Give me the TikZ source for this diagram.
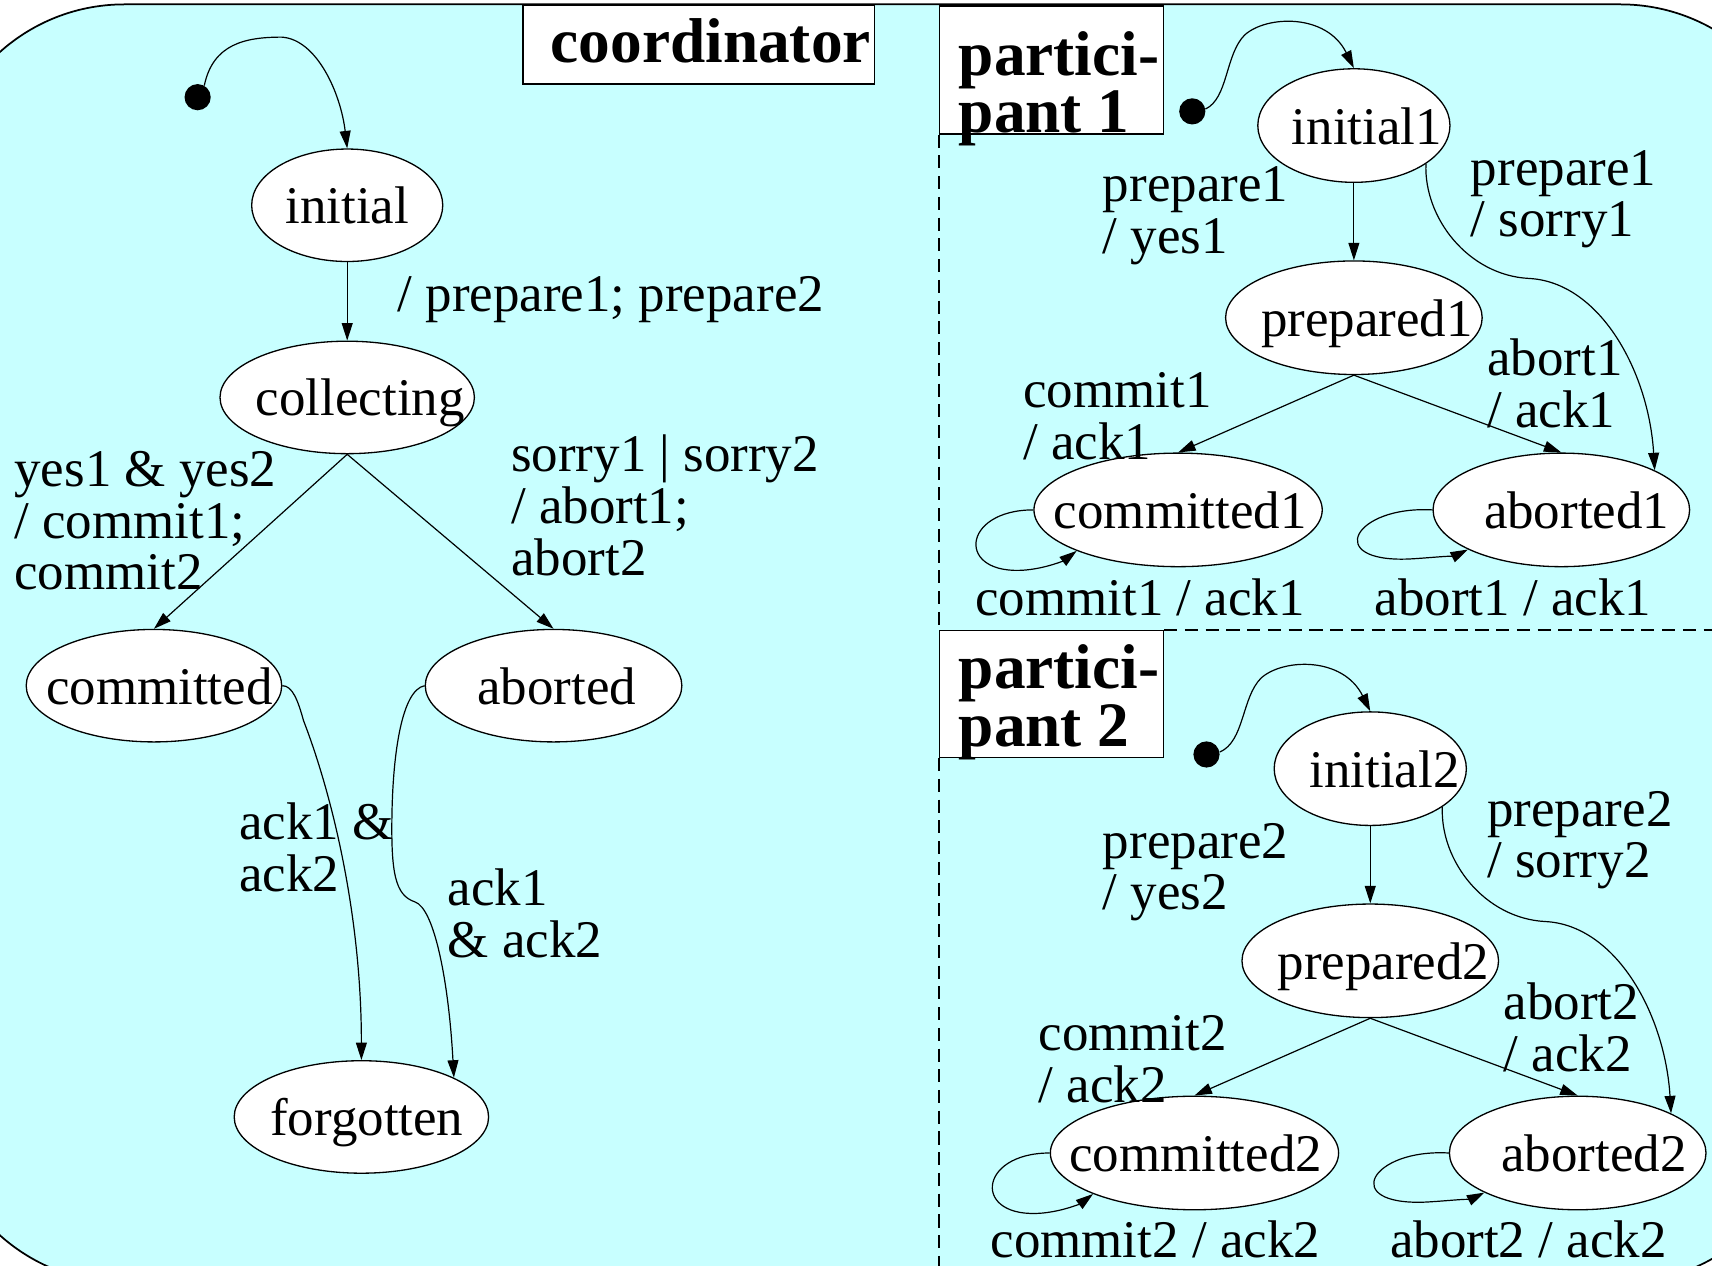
\documentclass[tikz,border=0pt]{standalone}
\usepackage{fontspec}
\setmainfont{Liberation Serif}
\usetikzlibrary{arrows.meta,shapes.geometric}
\definecolor{panelcyan}{RGB}{200,255,255}
\newcommand{\labelfont}{\fontsize{48.5}{47}\selectfont}
\newcommand{\titlefont}{\fontsize{58}{48}\selectfont\bfseries}
% multi-line label whose baseline is that of its first line
\newcommand{\lines}[1]{\begin{tabular}[t]{@{}l@{}}#1\end{tabular}}
% state name shifted right by half of #1, not widening the ellipse
\newcommand{\stxt}[2]{\makebox[0pt]{\hspace*{#1}#2}}
\tikzset{
  state/.style={ellipse, draw, fill=white, line width=1.2pt, inner sep=0pt,
    minimum height=103pt, text height=34pt, text depth=0pt, font=\labelfont},
  trans/.style={-{Triangle[length=16pt,width=10pt]}, line width=1.1pt},
  lbl/.style={anchor=base west, inner sep=0pt, font=\labelfont},
  titlebox/.style={draw, fill=white, line width=1.3pt, inner sep=0pt},
  startdot/.style={circle, fill=black, minimum size=24pt, inner sep=0pt},
  region/.style={dash pattern=on 12pt off 7pt, line width=1pt}
}
\begin{document}
\begin{tikzpicture}[x=1pt,y=-1pt]
\useasboundingbox (0,0) rectangle (1568,1159);
\fill[white] (0,0) rectangle (1568,1159);
% enclosing state
\draw[fill=panelcyan, line width=1.6pt, rounded corners=171pt] (-57,4) rectangle (1655,1175);

% title boxes
\node[titlebox, minimum width=322pt, minimum height=72pt, text height=32pt, text depth=0pt, font=\titlefont] (coordbox) at (640,41) {\stxt{22pt}{coordinator}};
\node[titlebox, anchor=north west, minimum width=205pt, minimum height=117pt] (p1box) at (860,5) {};
\node[titlebox, anchor=north west, minimum width=205pt, minimum height=116pt] (p2box) at (860,577) {};
\coordinate (sepbottom) at (860,1165);
\coordinate (sepright) at (1660,577);

% orthogonal region borders
\draw[region] (p1box.south west) -- (p2box.north west);
\draw[region] (p2box.south west) -- (sepbottom);
\draw[region] (p2box.north east) -- (sepright);

\node[lbl, font=\titlefont] (p1title) at (878,69) {\lines{partici-\\pant 1}};
\node[lbl, font=\titlefont] (p2title) at (878,631) {\lines{partici-\\pant 2}};

% coordinator states
\node[state, minimum width=175pt] (init) at (318,188) {\stxt{0pt}{initial}};
\node[state, minimum width=233pt] (coll) at (318,364) {\stxt{24pt}{collecting}};
\node[state, minimum width=234pt] (comm) at (141,628) {\stxt{10pt}{committed}};
\node[state, minimum width=235pt] (abo) at (507,628) {\stxt{6pt}{aborted}};
\node[state, minimum width=233pt] (forg) at (331,1023) {\stxt{10pt}{forgotten}};
\node[startdot] (d0) at (181,89) {};

% participant 1 states
\node[state, minimum width=176pt, minimum height=104pt] (i1) at (1240,115) {\stxt{24pt}{initial1}};
\node[state, minimum width=235pt, minimum height=104pt] (pr1) at (1240,291) {\stxt{24pt}{prepared1}};
\node[state, minimum width=264pt, minimum height=104pt] (c1) at (1079,467) {\stxt{4pt}{committed1}};
\node[state, minimum width=235pt, minimum height=104pt] (a1) at (1430,467) {\stxt{28pt}{aborted1}};
\node[startdot] (d1) at (1092,102) {};

% participant 2 states
\node[state, minimum width=176pt, minimum height=104pt] (i2) at (1255,704) {\stxt{26pt}{initial2}};
\node[state, minimum width=235pt, minimum height=104pt] (pr2) at (1255,880) {\stxt{24pt}{prepared2}};
\node[state, minimum width=264pt, minimum height=104pt] (c2) at (1094,1056) {\stxt{2pt}{committed2}};
\node[state, minimum width=235pt, minimum height=104pt] (a2) at (1445,1056) {\stxt{30pt}{aborted2}};
\node[startdot] (d2) at (1105,691) {};

% coordinator transitions
\draw[trans] (d0.60) .. controls (195,40) and (225,34) .. (258,34)
  .. controls (290,36) and (312,85) .. (init.north);
\draw[trans] (init.south) -- (coll.north);
\draw[trans] (coll.south) -- (comm.north);
\draw[trans] (coll.south) -- (abo.north);
\draw[trans] (comm.east) .. controls (268,628) and (273,642) .. (278,660)
  .. controls (305,730) and (331,840) .. (forg.north);
\draw[trans] (abo.west) .. controls (368,632) and (360,690) .. (359,745)
  .. controls (358,800) and (362,820) .. (380,826)
  .. controls (398,832) and (411,900) .. (forg.23);

% participant 1 transitions
\draw[trans] (d1.10) .. controls (1125,90) and (1122,50) .. (1140,32)
  .. controls (1160,14) and (1215,12) .. (i1.north);
\draw[trans] (i1.south) -- (pr1.north);
\draw[trans] (i1.-28) .. controls (1304,200) and (1345,252) .. (1400,255)
  .. controls (1465,258) and (1510,340) .. (a1.23);
\draw[trans] (pr1.south) -- (c1.north);
\draw[trans] (pr1.south) -- (a1.north);
\draw[trans] (c1.west) .. controls (880,467) and (875,528) .. (940,522)
  .. controls (960,520) and (975,513) .. (c1.202);
\draw[trans] (a1.west) .. controls (1240,463) and (1212,515) .. (1290,512)
  .. controls (1310,511) and (1335,508) .. (a1.203.5);

% participant 2 transitions
\draw[trans] (d2.10) .. controls (1140,679) and (1137,639) .. (1155,621)
  .. controls (1175,603) and (1230,601) .. (i2.north);
\draw[trans] (i2.south) -- (pr2.north);
\draw[trans] (i2.-28) .. controls (1319,789) and (1360,841) .. (1415,844)
  .. controls (1480,847) and (1525,929) .. (a2.23);
\draw[trans] (pr2.south) -- (c2.north);
\draw[trans] (pr2.south) -- (a2.north);
\draw[trans] (c2.west) .. controls (895,1056) and (890,1117) .. (955,1111)
  .. controls (975,1109) and (990,1102) .. (c2.202);
\draw[trans] (a2.west) .. controls (1255,1052) and (1227,1104) .. (1305,1101)
  .. controls (1325,1100) and (1350,1097) .. (a2.203.5);

% coordinator labels
\node[lbl] (l-prep) at (364,285) {/ prepare1; prepare2};
\node[lbl] (l-yes) at (13,446) {\lines{yes1 \& yes2\\/ commit1;\\commit2}};
\node[lbl] (l-sorry) at (468,432) {\lines{sorry1 | sorry2\\/ abort1;\\abort2}};
\node[lbl] (l-ackc) at (219,769) {\lines{ack1 \&\\ack2}};
\node[lbl] (l-acka) at (410,829) {\lines{ack1\\\& ack2}};

% participant 1 labels
\node[lbl] (l-yes1) at (1010,185) {\lines{prepare1\\/ yes1}};
\node[lbl] (l-sorry1) at (1347,170) {\lines{prepare1\\/ sorry1}};
\node[lbl] (l-commit1) at (937,373) {\lines{commit1\\/ ack1}};
\node[lbl] (l-abort1) at (1362,344) {\lines{abort1\\/ ack1}};
\node[lbl] (l-cloop1) at (893,564) {commit1 / ack1};
\node[lbl] (l-aloop1) at (1259,564) {abort1 / ack1};

% participant 2 labels
\node[lbl] (l-yes2) at (1010,786) {\lines{prepare2\\/ yes2}};
\node[lbl] (l-sorry2) at (1362,757) {\lines{prepare2\\/ sorry2}};
\node[lbl] (l-commit2) at (951,962) {\lines{commit2\\/ ack2}};
\node[lbl] (l-abort2) at (1377,934) {\lines{abort2\\/ ack2}};
\node[lbl] (l-cloop2) at (907,1152) {commit2 / ack2};
\node[lbl] (l-aloop2) at (1273,1152) {abort2 / ack2};
\end{tikzpicture}
\end{document}
